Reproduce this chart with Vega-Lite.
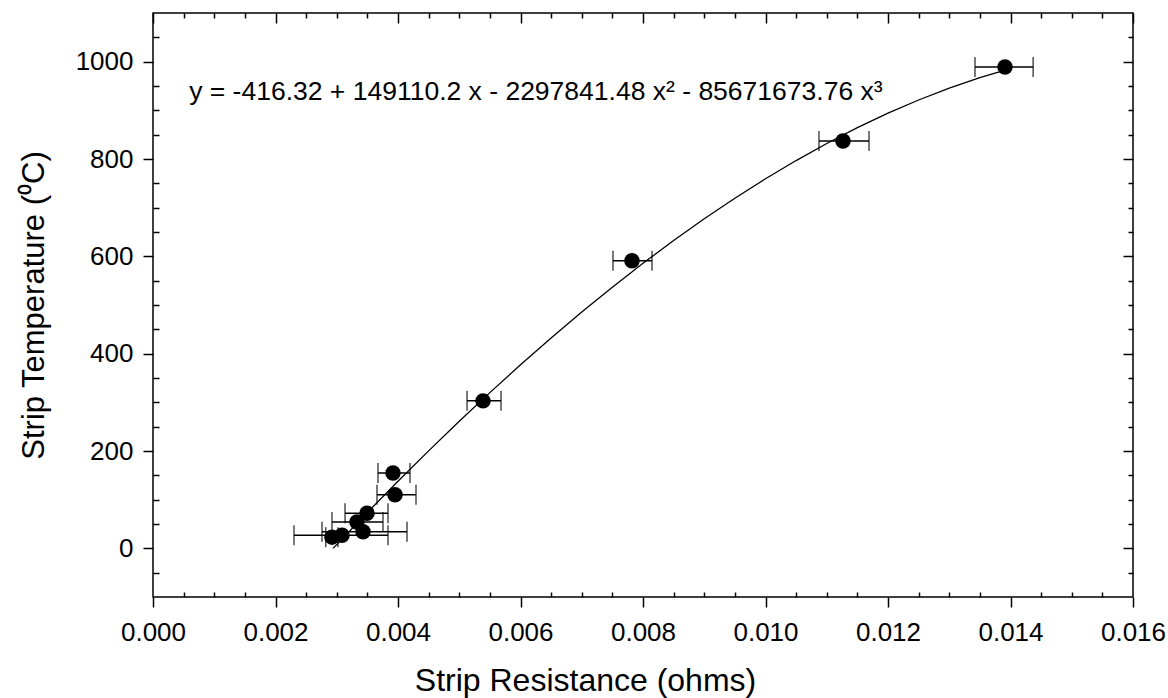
{
  "$schema": "https://vega.github.io/schema/vega-lite/v6.json",
  "autosize": {"type": "none"},
  "padding": {"left": 153, "top": 13, "right": 35, "bottom": 101},
  "width": 980,
  "height": 584,
  "background": "white",
  "config": {
    "view": {"stroke": "black", "strokeWidth": 1.5},
    "font": "Liberation Sans",
    "axis": {
      "domain": false,
      "grid": false,
      "tickColor": "black",
      "tickWidth": 1.5,
      "labelColor": "black",
      "titleColor": "black",
      "labelFont": "Liberation Sans",
      "titleFont": "Liberation Sans",
      "labelFontSize": 26,
      "titleFontSize": 31,
      "titleFontWeight": "normal"
    }
  },
  "datasets": {
    "pts": [
      {"r": 0.002922, "t": 23, "rlo": 0.00282, "rhi": 0.00302},
      {"r": 0.003086, "t": 27, "rlo": 0.002302, "rhi": 0.003837},
      {"r": 0.003429, "t": 34, "rlo": 0.002759, "rhi": 0.004147},
      {"r": 0.00333, "t": 54, "rlo": 0.002922, "rhi": 0.003755},
      {"r": 0.003494, "t": 72, "rlo": 0.003135, "rhi": 0.003837},
      {"r": 0.003951, "t": 110, "rlo": 0.003657, "rhi": 0.004294},
      {"r": 0.003918, "t": 155, "rlo": 0.003673, "rhi": 0.004196},
      {"r": 0.005388, "t": 303, "rlo": 0.005127, "rhi": 0.005682},
      {"r": 0.00782, "t": 591, "rlo": 0.00751, "rhi": 0.008147},
      {"r": 0.011265, "t": 837, "rlo": 0.010873, "rhi": 0.01169},
      {"r": 0.01391, "t": 989, "rlo": 0.01342, "rhi": 0.01437}
    ],
    "fit": [
      {"cx": 0.00294, "cy": 0.0},
      {"cx": 0.0035, "cy": 73.7},
      {"cx": 0.004, "cy": 137.9},
      {"cx": 0.0045, "cy": 200.3},
      {"cx": 0.005, "cy": 261.1},
      {"cx": 0.0055, "cy": 320.0},
      {"cx": 0.006, "cy": 377.1},
      {"cx": 0.0065, "cy": 432.3},
      {"cx": 0.007, "cy": 485.5},
      {"cx": 0.0075, "cy": 536.6},
      {"cx": 0.008, "cy": 585.6},
      {"cx": 0.0085, "cy": 632.5},
      {"cx": 0.009, "cy": 677.1},
      {"cx": 0.0095, "cy": 719.4},
      {"cx": 0.01, "cy": 759.3},
      {"cx": 0.0105, "cy": 796.8},
      {"cx": 0.011, "cy": 831.8},
      {"cx": 0.0115, "cy": 864.3},
      {"cx": 0.012, "cy": 894.1},
      {"cx": 0.0125, "cy": 921.2},
      {"cx": 0.013, "cy": 945.6},
      {"cx": 0.0135, "cy": 967.1},
      {"cx": 0.0139, "cy": 982.3}
    ],
    "eq": [
      {"ex": 0.00059, "ey": 938, "label": "y = -416.32 + 149110.2 x - 2297841.48 x² - 85671673.76 x³"}
    ]
  },
  "resolve": {"axis": {"x": "independent", "y": "independent"}},
  "layer": [
    {
      "data": {"name": "fit"},
      "mark": {"type": "line", "color": "black", "strokeWidth": 1.3},
      "encoding": {
        "x": {
          "field": "cx", "type": "quantitative",
          "scale": {"domain": [0, 0.016], "nice": false, "zero": false},
          "axis": {
            "orient": "bottom",
            "values": [0, 0.002, 0.004, 0.006, 0.008, 0.01, 0.012, 0.014, 0.016],
            "format": ".3f",
            "tickSize": 10,
            "labelPadding": 12,
            "labelFlush": false,
            "labelOverlap": false,
            "title": "Strip Resistance (ohms)",
            "titleFontSize": 32,
            "titleX": 432,
            "titlePadding": 20
          }
        },
        "y": {
          "field": "cy", "type": "quantitative",
          "scale": {"domain": [-100, 1100], "nice": false, "zero": false},
          "axis": {
            "orient": "left",
            "values": [0, 200, 400, 600, 800, 1000],
            "format": "d",
            "tickSize": 10,
            "labelPadding": 10,
            "labelFlush": false,
            "labelOverlap": false,
            "title": "Strip Temperature (⁰C)",
            "titlePadding": 25
          }
        }
      }
    },
    {
      "data": {"name": "pts"},
      "mark": {"type": "rule", "color": "black", "strokeWidth": 1.5},
      "encoding": {
        "x": {
          "field": "rlo", "type": "quantitative",
          "scale": {"domain": [0, 0.016], "nice": false, "zero": false},
          "axis": {
            "orient": "bottom",
            "values": [0.0005, 0.001, 0.0015, 0.0025, 0.003, 0.0035, 0.0045, 0.005, 0.0055, 0.0065, 0.007, 0.0075, 0.0085, 0.009, 0.0095, 0.0105, 0.011, 0.0115, 0.0125, 0.013, 0.0135, 0.0145, 0.015, 0.0155],
            "tickSize": -5,
            "labels": false,
            "title": null
          }
        },
        "x2": {"field": "rhi"},
        "y": {
          "field": "t", "type": "quantitative",
          "scale": {"domain": [-100, 1100], "nice": false, "zero": false},
          "axis": {
            "orient": "left",
            "values": [-50, 50, 100, 150, 250, 300, 350, 450, 500, 550, 650, 700, 750, 850, 900, 950, 1050],
            "tickSize": -6,
            "labels": false,
            "title": null
          }
        }
      }
    },
    {
      "data": {"name": "pts"},
      "mark": {"type": "tick", "orient": "vertical", "color": "black", "size": 20, "thickness": 1.5},
      "encoding": {
        "x": {
          "field": "rlo", "type": "quantitative",
          "scale": {"domain": [0, 0.016], "nice": false, "zero": false},
          "axis": {
            "orient": "top",
            "values": [0, 0.002, 0.004, 0.006, 0.008, 0.01, 0.012, 0.014, 0.016],
            "tickSize": -10,
            "labels": false,
            "title": null
          }
        },
        "y": {
          "field": "t", "type": "quantitative",
          "scale": {"domain": [-100, 1100], "nice": false, "zero": false},
          "axis": {
            "orient": "right",
            "values": [0, 200, 400, 600, 800, 1000],
            "tickSize": -10,
            "labels": false,
            "title": null
          }
        }
      }
    },
    {
      "data": {"name": "pts"},
      "mark": {"type": "tick", "orient": "vertical", "color": "black", "size": 20, "thickness": 1.5},
      "encoding": {
        "x": {
          "field": "rhi", "type": "quantitative",
          "scale": {"domain": [0, 0.016], "nice": false, "zero": false},
          "axis": {
            "orient": "top",
            "values": [0.0005, 0.001, 0.0015, 0.0025, 0.003, 0.0035, 0.0045, 0.005, 0.0055, 0.0065, 0.007, 0.0075, 0.0085, 0.009, 0.0095, 0.0105, 0.011, 0.0115, 0.0125, 0.013, 0.0135, 0.0145, 0.015, 0.0155],
            "tickSize": -5,
            "labels": false,
            "title": null
          }
        },
        "y": {
          "field": "t", "type": "quantitative",
          "scale": {"domain": [-100, 1100], "nice": false, "zero": false},
          "axis": {
            "orient": "right",
            "values": [-50, 50, 100, 150, 250, 300, 350, 450, 500, 550, 650, 700, 750, 850, 900, 950, 1050],
            "tickSize": -5,
            "labels": false,
            "title": null
          }
        }
      }
    },
    {
      "data": {"name": "pts"},
      "mark": {"type": "circle", "color": "black", "size": 240, "opacity": 1},
      "encoding": {
        "x": {"field": "r", "type": "quantitative", "axis": null},
        "y": {"field": "t", "type": "quantitative", "axis": null}
      }
    },
    {
      "data": {"name": "eq"},
      "mark": {"type": "text", "align": "left", "baseline": "middle", "fontSize": 26.5, "font": "Liberation Sans", "color": "black"},
      "encoding": {
        "x": {"field": "ex", "type": "quantitative", "axis": null},
        "y": {"field": "ey", "type": "quantitative", "axis": null},
        "text": {"field": "label"}
      }
    }
  ]
}
